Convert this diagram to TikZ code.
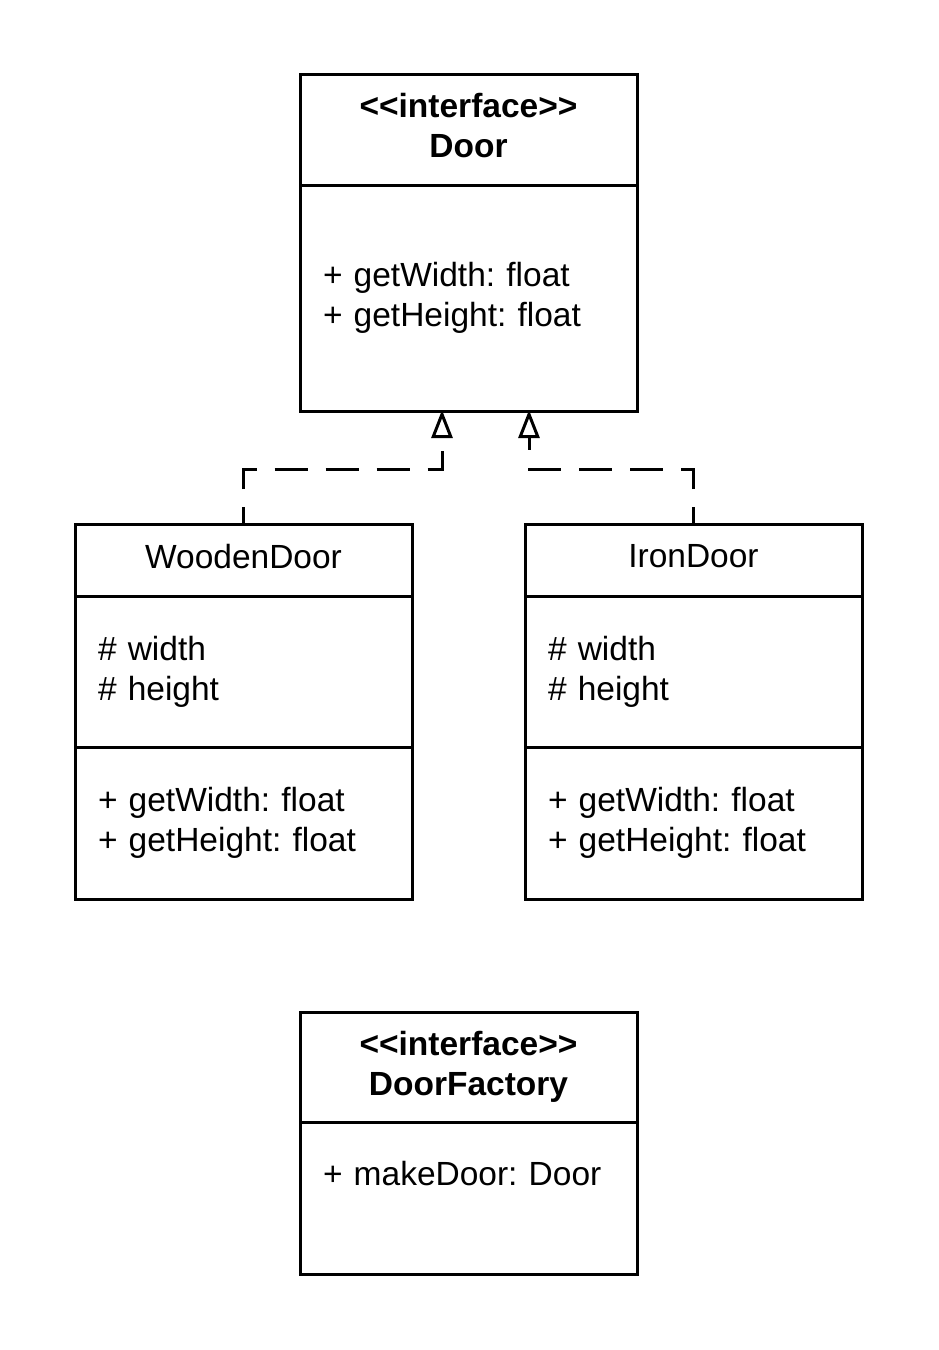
\documentclass[tikz,border=0pt]{standalone}
\usepackage{fontspec}
\setmainfont{Liberation Sans}
\usetikzlibrary{positioning,arrows.meta}
\newcommand{\ster}[1]{<{}<#1>{}>}
\frenchspacing

\begin{document}
\begin{tikzpicture}[x=1pt,y=-1pt,
    comp/.style={draw,line width=3pt,minimum width=337pt,inner sep=0pt,outer sep=0pt,
      font=\fontsize{33.5}{40}\selectfont},
    head/.style={comp,font=\fontsize{33.5}{40}\selectfont\bfseries,align=center,text depth=7.5pt},
    title/.style={comp,align=center,text depth=7.5pt},
    list/.style={comp,align=left,text width=291pt},
    realize/.style={line width=3pt,dash pattern=on 33pt off 18pt,dash phase=16pt,
      -{Triangle[open,length=28pt,width=21pt]}},
  ]
  \useasboundingbox (0,0) rectangle (938,1350);

  % interface Door
  \node[head,minimum height=111pt] (doorhead) at (468.5,129.5) {\ster{interface}\\Door};
  \node[list,minimum height=226pt,below=0pt of doorhead] (doorbody)
    {+ getWidth: float\\+ getHeight: float};

  % WoodenDoor
  \node[title,minimum height=72pt] (woodtitle) at (243.5,560) {WoodenDoor};
  \node[list,minimum height=151pt,below=0pt of woodtitle] (woodattr) {\# width\\\# height};
  \node[list,minimum height=152pt,below=0pt of woodattr] (woodops)
    {+ getWidth: float\\+ getHeight: float};

  % IronDoor
  \node[title,minimum height=72pt] (irontitle) at (693.5,560) {IronDoor};
  \node[list,minimum height=151pt,below=0pt of irontitle] (ironattr) {\# width\\\# height};
  \node[list,minimum height=152pt,below=0pt of ironattr] (ironops)
    {+ getWidth: float\\+ getHeight: float};

  % interface DoorFactory
  \node[head,minimum height=110pt] (facthead) at (468.5,1067) {\ster{interface}\\DoorFactory};
  \node[list,minimum height=152pt,text depth=49pt,below=0pt of facthead] (factbody)
    {+ makeDoor: Door};

  % realizations
  \coordinate (woodtip) at ([xshift=-26.5pt,yshift=1pt]doorbody.south);
  \coordinate (irontip) at ([xshift=60.5pt,yshift=1pt]doorbody.south);
  \draw[realize] (woodtitle.north) -- ++(0,-55) -| (woodtip);
  \draw[realize] (irontitle.north) -- ++(0,-55) -| (irontip);
\end{tikzpicture}
\end{document}
